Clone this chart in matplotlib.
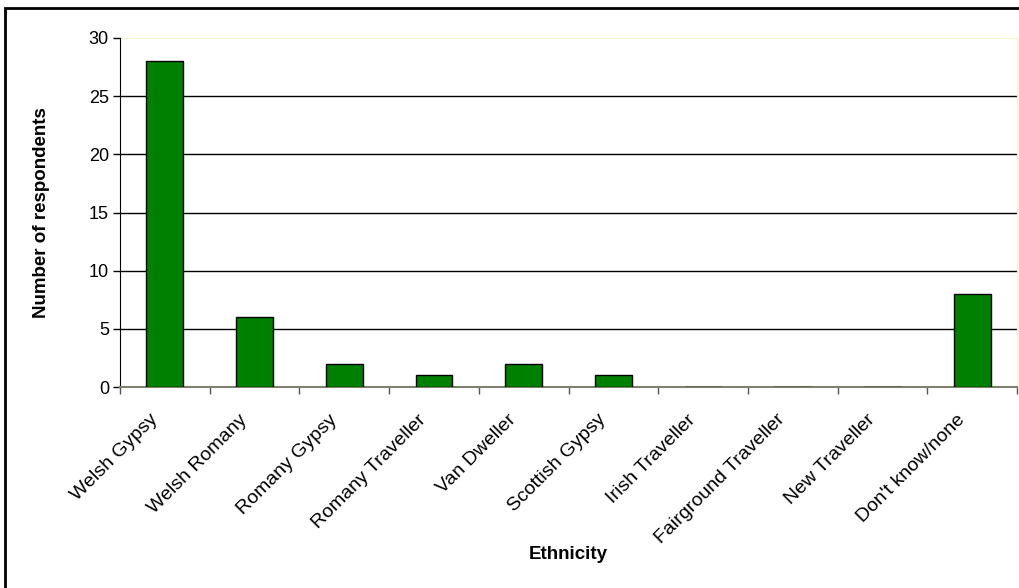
import matplotlib
matplotlib.use('Agg')
import matplotlib.pyplot as plt
import matplotlib.transforms as mtransforms
from matplotlib.patches import Rectangle
import numpy as np

plt.rcParams['font.family'] = ['Liberation Sans', 'DejaVu Sans']

# data
categories = ['Welsh Gypsy', 'Welsh Romany', 'Romany Gypsy', 'Romany Traveller',
              'Van Dweller', 'Scottish Gypsy', 'Irish Traveller',
              'Fairground Traveller', 'New Traveller', "Don't know/none"]
respondents = [28, 6, 2, 1, 2, 1, 0, 0, 0, 8]
y_ticks = [0, 5, 10, 15, 20, 25, 30]

fig = plt.figure(figsize=(10.2, 5.88), dpi=100)

# outer frame of the chart object
fig.patches.append(Rectangle((5 / 1020, -0.01), 1.2, 1 - 8 / 588 + 0.01,
                             transform=fig.transFigure, fill=False,
                             edgecolor='black', linewidth=2))

ax = fig.add_axes([120 / 1020, 1 - 387 / 588, 897 / 1020, 349 / 588])
x = np.arange(len(categories))
ax.bar(x, respondents, width=0.41, color='#008000', edgecolor='black',
       linewidth=1, zorder=3)

ax.set_xlim(-0.5, len(categories) - 0.5)
ax.set_ylim(0, 30)
ax.set_yticks(y_ticks)
ax.tick_params(axis='y', labelsize=13, length=5, width=1, direction='out', pad=3)
for v in y_ticks[1:-1]:
    ax.axhline(v, color='black', linewidth=1, zorder=1)
ax.axhline(30, color='#f3f3c0', linewidth=1.2, zorder=1)

ax.set_xticks(x)
ax.set_xticklabels(categories, rotation=45, ha='right', rotation_mode='anchor',
                   fontsize=14)
ax.tick_params(axis='x', length=0, pad=8)
# nudge the slanted labels down/left like the original
shift = mtransforms.ScaledTranslation(-0.16, -0.13, fig.dpi_scale_trans)
for lbl in ax.get_xticklabels():
    lbl.set_transform(lbl.get_transform() + shift)
ax.set_xticks(np.arange(-0.5, len(categories) + 0.5, 1), minor=True)
ax.tick_params(axis='x', which='minor', length=5, width=1, color='#555555')

ax.spines['top'].set_visible(False)
ax.spines['right'].set_color('#f3f3c0')
ax.spines['left'].set_color('black')
ax.spines['bottom'].set_color('#808070')
ax.spines['bottom'].set_linewidth(1.5)

ax.set_ylabel('Number of respondents', fontsize=13.5, fontweight='bold')
ax.set_xlabel('Ethnicity', fontsize=13.5, fontweight='bold')
ax.yaxis.set_label_coords(-0.087, 0.5)
ax.xaxis.set_label_coords(0.5, -0.481)
ax.xaxis.label.set_va('center')
ax.yaxis.label.set_va('center')

fig.savefig('out.png', dpi=100)
